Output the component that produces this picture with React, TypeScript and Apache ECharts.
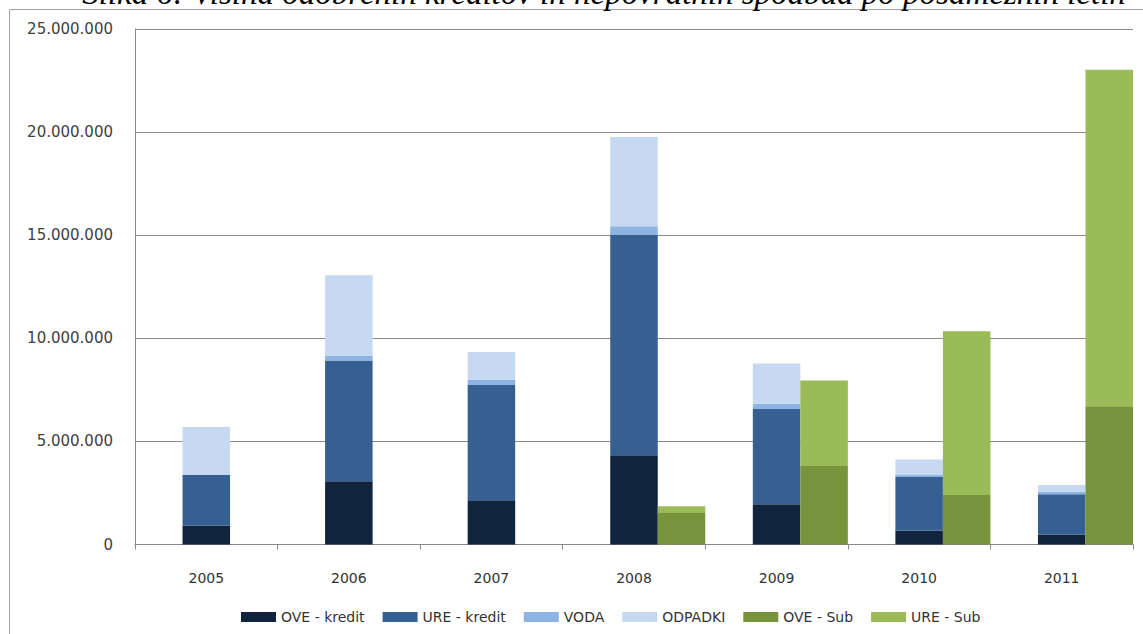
import React, { useEffect, useRef } from "react";
import * as echarts from "echarts";

// Odobreni krediti in nepovratne spodbude po letih (EUR)
const years = ["2005", "2006", "2007", "2008", "2009", "2010", "2011"];
const oveKredit = [920000, 3070000, 2150000, 4330000, 1950000, 670000, 490000];
const ureKredit = [2460000, 5850000, 5580000, 10710000, 4620000, 2600000, 1950000];
const voda = [20000, 220000, 250000, 390000, 260000, 130000, 120000];
const odpadki = [2300000, 3920000, 1360000, 4330000, 1950000, 720000, 320000];
const oveSub = [null, null, null, 1530000, 3810000, 2400000, 6700000];
const ureSub = [null, null, null, 330000, 4140000, 7940000, 16320000];

const yTicks = { min: 0, max: 25000000, interval: 5000000 };
const legendNames = ["OVE - kredit", "URE - kredit", "VODA", "ODPADKI", "OVE - Sub", "URE - Sub"];
const title = "Slika 6: Višina odobrenih kreditov in nepovratnih spodbud po posameznih letih";

const fmt = (v: number) => String(v).replace(/\B(?=(\d{3})+(?!\d))/g, ".");

export default function App() {
  const ref = useRef<HTMLDivElement>(null);

  useEffect(() => {
    document.body.style.margin = "0";
    const chart = echarts.init(ref.current!, null, { renderer: "svg" });
    const axisGray = "#898989";
    const font = "DejaVu Sans";

    const bar = (name: string, stack: string, data: (number | null)[], color: string) => ({
      name,
      type: "bar",
      stack,
      data,
      barGap: "0%",
      barCategoryGap: "0%",
      itemStyle: { color },
    });

    chart.setOption({
      animation: false,
      backgroundColor: "#ffffff",
      grid: { left: 135, right: 10, top: 29, bottom: 89.5, containLabel: false },
      graphic: [
        {
          type: "rect",
          z: -1,
          shape: { x: 9.5, y: 9.5, width: 1200, height: 700 },
          style: { fill: "none", stroke: "#a3a3a3", lineWidth: 1 },
          silent: true,
        },
        {
          type: "text",
          x: 604,
          y: -24,
          style: {
            text: title,
            font: 'italic 33px "Liberation Serif"',
            fill: "#000000",
            align: "center",
            verticalAlign: "top",
          },
          silent: true,
        },
      ],
      legend: {
        data: legendNames,
        left: 236,
        top: 605,
        itemWidth: 35,
        itemHeight: 10,
        itemGap: 18,
        icon: "rect",
        textStyle: { fontFamily: font, fontSize: 14, color: "#333333", padding: [0, 0, 0, 0] },
      },
      xAxis: {
        type: "category",
        data: years,
        offset: 6,
        axisLine: { show: true, lineStyle: { color: axisGray, width: 1 } },
        axisTick: { show: true, length: 5, inside: false, lineStyle: { color: axisGray } },
        axisLabel: { fontFamily: font, fontSize: 14, color: "#333333", margin: 20 },
        splitLine: { show: false },
      },
      yAxis: {
        type: "value",
        min: yTicks.min,
        max: yTicks.max,
        interval: yTicks.interval,
        axisLine: { show: true, lineStyle: { color: axisGray, width: 1 } },
        axisTick: { show: false },
        axisLabel: { fontFamily: font, fontSize: 15, color: "#404040", margin: 22, formatter: fmt },
        splitLine: { show: true, lineStyle: { color: axisGray, width: 1 } },
      },
      series: [
        // empty first column keeps the credit stack centred on each year
        { ...bar("spacer", "spacer", years.map(() => null), "transparent"), silent: true },
        bar("OVE - kredit", "kredit", oveKredit, "#10243e"),
        bar("URE - kredit", "kredit", ureKredit, "#376092"),
        bar("VODA", "kredit", voda, "#8db4e2"),
        bar("ODPADKI", "kredit", odpadki, "#c6d9f1"),
        bar("OVE - Sub", "sub", oveSub, "#77933c"),
        bar("URE - Sub", "sub", ureSub, "#9bbb59"),
      ],
    });

    return () => chart.dispose();
  }, []);

  return <div ref={ref} style={{ position: "absolute", left: 0, top: 0, width: 1143, height: 634 }} />;
}
